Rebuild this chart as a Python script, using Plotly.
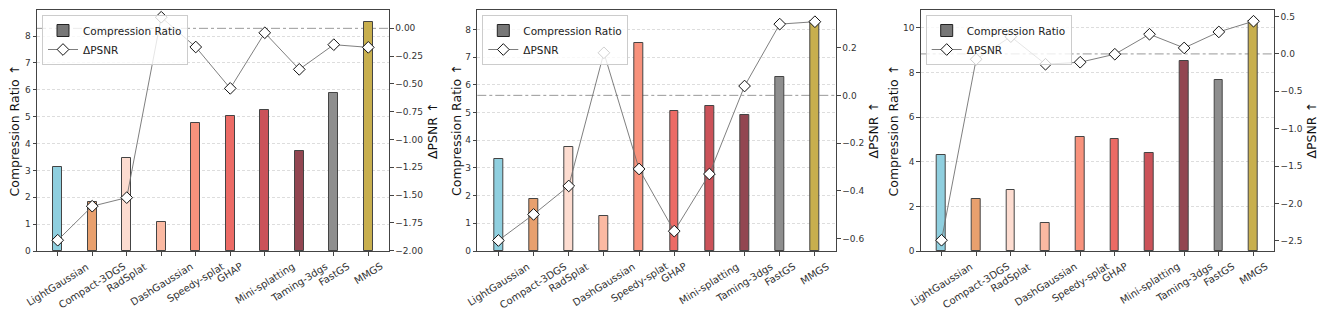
import plotly.graph_objects as go

methods = ["LightGaussian", "Compact-3DGS", "RadSplat", "DashGaussian", "Speedy-splat",
           "GHAP", "Mini-splatting", "Taming-3dgs", "FastGS", "MMGS"]
bar_colors = ["#8fcfdf", "#e8a06e", "#fddcd0", "#fbb9a2", "#f8927c",
              "#ec6b65", "#cb5259", "#924651", "#8e8e8e", "#c8af4e"]

ratio_1 = [3.11, 1.81, 3.47, 1.09, 4.75, 5.03, 5.23, 3.72, 5.87, 8.52]
psnr_1 = [-1.906, -1.60, -1.523, 0.10, -0.168, -0.54, -0.04, -0.369, -0.147, -0.171]

ratio_2 = [3.32, 1.88, 3.74, 1.27, 7.50, 5.06, 5.22, 4.90, 6.27, 8.30]
psnr_2 = [-0.607, -0.498, -0.379, 0.178, -0.308, -0.568, -0.329, 0.039, 0.298, 0.308]

ratio_3 = [4.31, 2.35, 2.73, 1.27, 5.13, 5.02, 4.38, 8.50, 7.68, 10.30]
psnr_3 = [-2.49, -0.071, 0.231, -0.138, -0.111, -0.004, 0.263, 0.080, 0.294, 0.437]

left_title = "Compression Ratio ↑"
right_title = "ΔPSNR ↑"

panels = [
    dict(ratio=ratio_1, psnr=psnr_1, xd=(37, 389), lrange=[0, 8.97], ldt=1,
         rrange=[-2.003, 0.165], rdt=0.25, rfmt=".2f", lt=14, rt=432.5),
    dict(ratio=ratio_2, psnr=psnr_2, xd=(477.3, 836), lrange=[0, 8.70], ldt=1,
         rrange=[-0.651, 0.357], rdt=0.2, rfmt=".1f", lt=456.5, rt=873),
    dict(ratio=ratio_3, psnr=psnr_3, xd=(920.7, 1274.3), lrange=[0, 10.8], ldt=2,
         rrange=[-2.634, 0.587], rdt=0.5, rfmt=".1f", lt=893, rt=1311),
]

W, H = 1325, 320
y_bot, y_top = 251, 10
ydom = [(H - y_bot) / H, (H - y_top) / H]
FONT = "DejaVu Sans"
AX = "#444444"
TKX = dict(family=FONT, size=10, color="#333333")
TKY = dict(family=FONT, size=9, color="#333333")
TTL = dict(family=FONT, size=12.5, color="#111111")

fig = go.Figure()
layout = dict(width=W, height=H, margin=dict(l=0, r=0, t=0, b=0),
              plot_bgcolor="white", paper_bgcolor="white",
              font=dict(family=FONT, color="#222222"), shapes=[], annotations=[], bargap=0)
xs = list(range(len(methods)))

for i, p in enumerate(panels):
    xn = "x" if i == 0 else f"x{i+1}"
    yl = "y" if i == 0 else f"y{2*i+1}"
    yr = f"y{2*i+2}"
    lg = "legend" if i == 0 else f"legend{i+1}"
    fig.add_trace(go.Bar(x=xs, y=p["ratio"], width=0.25,
                         marker=dict(color=bar_colors, line=dict(color=AX, width=1)),
                         xaxis=xn, yaxis=yl, showlegend=False))
    fig.add_trace(go.Bar(x=[None], y=[None], name="Compression Ratio",
                         marker=dict(color="#777777", line=dict(color="#222222", width=1)),
                         xaxis=xn, yaxis=yl, legend=lg, showlegend=True))
    fig.add_trace(go.Scatter(x=xs, y=p["psnr"], mode="lines+markers", name="ΔPSNR",
                             line=dict(color="#707070", width=0.9),
                             marker=dict(symbol="diamond", size=9, color="white",
                                         line=dict(color="#111111", width=1)),
                             xaxis=xn, yaxis=yr, legend=lg, showlegend=True))

    xk = "xaxis" if i == 0 else f"xaxis{i+1}"
    ylk = "yaxis" if i == 0 else f"yaxis{2*i+1}"
    yrk = f"yaxis{2*i+2}"
    x0, x1 = p["xd"]
    layout[xk] = dict(domain=[x0 / W, x1 / W], anchor=yl, range=[-0.6, 9.6],
                      tickvals=xs, showticklabels=False, automargin=False,
                      showline=True, linecolor=AX, linewidth=1, mirror=True,
                      ticks="outside", ticklen=3.5, tickcolor=AX,
                      showgrid=False, zeroline=False)
    layout[ylk] = dict(domain=ydom, anchor=xn, range=p["lrange"], dtick=p["ldt"], tick0=0,
                       showline=True, linecolor=AX, linewidth=1, automargin=False,
                       ticks="outside", ticklen=3.5, tickcolor=AX,
                       showgrid=True, gridcolor="#dddddd", griddash="3px,2px", gridwidth=0.8,
                       zeroline=False, tickfont=TKY)
    layout[yrk] = dict(overlaying=yl, side="right", anchor=xn, range=p["rrange"],
                       dtick=p["rdt"], tick0=0, tickformat=p["rfmt"], automargin=False,
                       showline=True, linecolor=AX, linewidth=1,
                       ticks="outside", ticklen=3.5, tickcolor=AX,
                       showgrid=False, zeroline=False, tickfont=TKY)
    layout[lg] = dict(x=(x0 + 5) / W, y=(H - 15) / H, xanchor="left", yanchor="top",
                      bgcolor="rgba(255,255,255,0.8)", bordercolor="#cccccc", borderwidth=1,
                      font=dict(family=FONT, size=10.5, color="#222"),
                      tracegroupgap=0, itemwidth=30)
    layout["shapes"].append(dict(type="line", xref=f"{xn} domain", yref=yr,
                                 x0=0, x1=1, y0=0, y1=0, layer="below",
                                 line=dict(color="#999999", width=1, dash="dashdot")))
    # x tick labels, centred on the tick (rotated)
    for k, name in zip(xs, methods):
        layout["annotations"].append(dict(text=name, x=k, xref=xn, y=(H - 258) / H, yref="paper",
                                          xanchor="center", yanchor="top", textangle=-32,
                                          showarrow=False, font=TKX))
    # axis titles
    ymid = (H - (y_top + y_bot) / 2) / H
    layout["annotations"].append(dict(text=left_title, x=p["lt"] / W, y=ymid, xref="paper",
                                      yref="paper", xanchor="center", yanchor="middle",
                                      textangle=-90, showarrow=False, font=TTL))
    layout["annotations"].append(dict(text=right_title, x=p["rt"] / W, y=ymid, xref="paper",
                                      yref="paper", xanchor="center", yanchor="middle",
                                      textangle=-90, showarrow=False, font=TTL))

fig.update_layout(**layout)
fig.write_html("out.html")
